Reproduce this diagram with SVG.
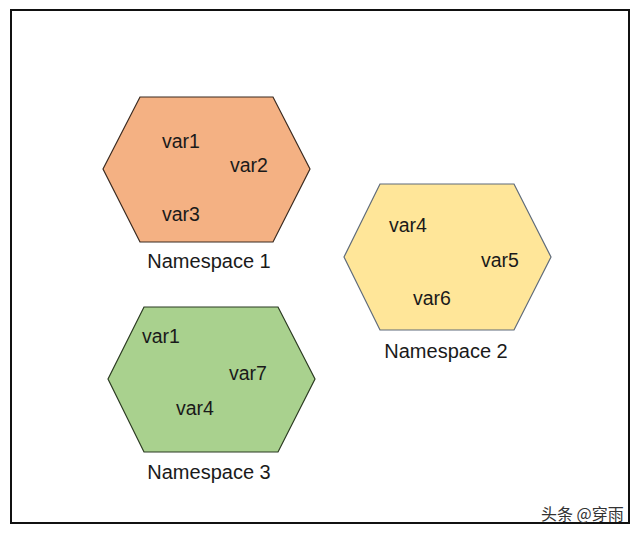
<svg xmlns="http://www.w3.org/2000/svg" width="640" height="536" viewBox="0 0 640 536">
<style>
.hex{stroke-width:1.2}
.v{font-family:"Liberation Sans",Arial,sans-serif;font-size:19.5px;fill:#1a1a1a}
.lbl{font-family:"Liberation Sans",Arial,sans-serif;font-size:20px;fill:#1a1a1a;text-anchor:middle}
</style>
<rect x="0" y="0" width="640" height="536" fill="#ffffff"/>
<rect x="11" y="10" width="618" height="513" fill="#ffffff" stroke="#111" stroke-width="2"/>
<g id="ns1">
<polygon class="hex" points="103,169 140,97 273,97 310,169 273,242 140,242" fill="#F4B183" stroke="#3a2a20"/>
<text class="v" x="162" y="148">var1</text>
<text class="v" x="230" y="172">var2</text>
<text class="v" x="162" y="221">var3</text>
<text class="lbl" x="209" y="268">Namespace 1</text>
</g>
<g id="ns2">
<polygon class="hex" points="344,257 380,184 514,184 551,257 514,330 380,330" fill="#FFE699" stroke="#5f6b7a"/>
<text class="v" x="389" y="232">var4</text>
<text class="v" x="481" y="267">var5</text>
<text class="v" x="413" y="305">var6</text>
<text class="lbl" x="446" y="358">Namespace 2</text>
</g>
<g id="ns3">
<polygon class="hex" points="108,379 144,307 278,307 315,379 278,452 144,452" fill="#A9D18E" stroke="#2b3a22"/>
<text class="v" x="142" y="343">var1</text>
<text class="v" x="229" y="380">var7</text>
<text class="v" x="176" y="415">var4</text>
<text class="lbl" x="209" y="479">Namespace 3</text>
</g>
<g id="connectors"></g>
<text x="541" y="520" font-family="'Noto Sans CJK SC',sans-serif" font-size="16" fill="#333">头条 @穿雨</text>
</svg>
